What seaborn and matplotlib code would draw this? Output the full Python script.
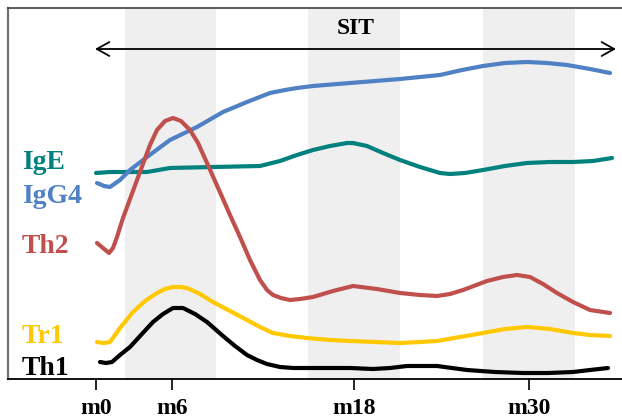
import matplotlib
matplotlib.use("Agg")
import matplotlib.pyplot as plt
import seaborn as sns
import pandas as pd

# ---- data (x in chart units, y = level above baseline) ----
ige_x = [96, 110, 147, 170, 213, 260, 280, 297, 313, 330, 347, 353, 367, 383, 400, 420, 440, 450, 465, 483, 505, 527, 550, 573, 593, 612]
ige_y = [206, 207, 207, 211, 212, 213, 218, 224, 229, 233, 236, 236, 233, 226, 219, 212, 206, 205, 206, 209, 213, 216, 217, 217, 218, 221]

igg4_x = [97, 104, 110, 120, 130, 147, 170, 197, 223, 247, 270, 285, 297, 313, 350, 400, 420, 440, 462, 483, 505, 527, 547, 567, 590, 610]
igg4_y = [196, 193, 192, 199, 209, 222, 239, 252, 267, 277, 286, 289, 291, 293, 296, 300, 302, 304, 309, 313, 316, 317, 316, 314, 310, 306]

th2_x = [97, 103, 109, 113, 117, 123, 130, 140, 150, 157, 165, 173, 181, 190, 198, 207, 215, 223, 230, 240, 250, 260, 267, 273, 281, 290, 300, 313, 333, 353, 377, 400, 420, 437, 450, 463, 487, 503, 517, 530, 543, 557, 573, 590, 610]
th2_y = [136, 131, 126, 131, 142, 161, 180, 207, 234, 249, 258, 261, 258, 249, 236, 216, 198, 180, 164, 142, 119, 99, 89, 84, 81, 79, 80, 82, 88, 93, 90, 86, 84, 83, 85, 89, 98, 102, 104, 102, 95, 86, 77, 69, 66]

tr1_x = [97, 104, 110, 120, 133, 145, 157, 165, 173, 180, 187, 200, 213, 230, 247, 260, 273, 290, 307, 330, 350, 375, 400, 420, 437, 460, 483, 505, 527, 550, 573, 590, 610]
tr1_y = [37, 36, 37, 51, 67, 78, 86, 90, 92, 92, 91, 85, 77, 68, 59, 52, 46, 43, 41, 39, 38, 37, 36, 37, 38, 42, 46, 50, 52, 50, 46, 44, 43]

th1_x = [100, 106, 112, 120, 130, 141, 153, 163, 173, 183, 195, 207, 215, 223, 235, 247, 257, 267, 280, 293, 320, 350, 373, 390, 407, 437, 452, 467, 495, 523, 548, 573, 590, 608]
th1_y = [17, 16, 17, 24, 32, 44, 57, 65, 71, 71, 65, 57, 50, 43, 33, 24, 19, 15, 12, 11, 11, 11, 10, 11, 13, 13, 11, 9, 7, 6, 6, 7, 9, 11]

series_names = ["IgE", "IgG4", "Th2", "Tr1", "Th1"]
series_colors = ["#00817E", "#4F81C4", "#C0504D", "#FFC800", "#000000"]
label_baselines = [210, 176, 126, 36, 4]

tick_labels = ["m0", "m6", "m18", "m30"]
tick_pos = [96, 172, 354, 529]

band_starts = [125, 308, 483]
band_ends = [216, 400, 575]

sit_label = "SIT"
sit_start, sit_end = 95, 616

# ---- build long-form table ----
frames = []
for name, xs, ys in zip(series_names,
                        [ige_x, igg4_x, th2_x, tr1_x, th1_x],
                        [ige_y, igg4_y, th2_y, tr1_y, th1_y]):
    frames.append(pd.DataFrame({"x": xs, "y": ys, "series": name}))
df = pd.concat(frames, ignore_index=True)

sns.set_style("white")
plt.rcParams["font.family"] = ["Liberation Serif", "DejaVu Serif"]
plt.rcParams["text.color"] = "black"
plt.rcParams["xtick.color"] = "black"

fig = plt.figure(figsize=(6.22, 4.19), dpi=100)
ax = fig.add_axes([8 / 622, 40 / 419, 1 - 8 / 622, 371 / 419])

for s, e in zip(band_starts, band_ends):
    ax.axvspan(s, e, color="#EFEFEF", zorder=0, lw=0)

sns.lineplot(data=df, x="x", y="y", hue="series", hue_order=series_names,
             palette=dict(zip(series_names, series_colors)), estimator=None,
             sort=True, linewidth=3.0, legend=False, ax=ax, zorder=3,
             solid_joinstyle="round")

for name, col, yb in zip(series_names, series_colors, label_baselines):
    ax.text(22, yb, name, color=col, fontsize=20, fontweight="bold",
            ha="left", va="baseline", zorder=4)

ax.annotate("", xy=(sit_end, 330), xytext=(sit_start, 330),
            arrowprops=dict(arrowstyle="<->,head_length=0.45,head_width=0.25",
                            lw=1.3, color="black", mutation_scale=20,
                            shrinkA=0, shrinkB=0))
ax.text((sit_start + sit_end) / 2, 351, sit_label, fontsize=17, fontweight="bold",
        ha="center", va="center", color="black")

ax.set_xlim(8, 622)
ax.set_ylim(0, 371)
ax.set_xticks(tick_pos)
ax.set_xticklabels(tick_labels, fontsize=17, fontweight="bold", color="black")
ax.set_yticks([])
ax.set_xlabel("")
ax.set_ylabel("")
ax.tick_params(axis="x", direction="out", length=8, width=1.2, color="black",
               bottom=True, pad=6)

ax.spines["right"].set_visible(False)
ax.spines["left"].set_color("#707070")
ax.spines["left"].set_linewidth(1.6)
ax.spines["top"].set_color("#404040")
ax.spines["top"].set_linewidth(1.2)
ax.spines["bottom"].set_color("black")
ax.spines["bottom"].set_linewidth(1.3)

fig.savefig("out.png", dpi=100)
